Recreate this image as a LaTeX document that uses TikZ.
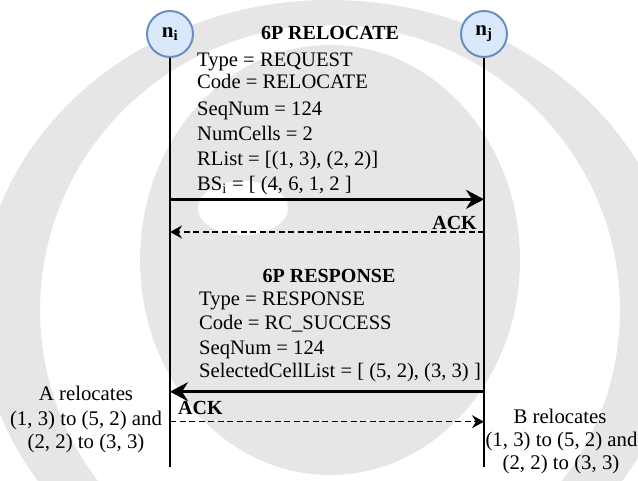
\documentclass[tikz,border=0pt]{standalone}
\usepackage{fontspec}
\setmainfont{Liberation Serif}
\usetikzlibrary{arrows.meta}
\definecolor{wm}{HTML}{E6E6E6}
\definecolor{nodefill}{HTML}{DAE8FC}
\definecolor{nodeline}{HTML}{6C8EBF}
\tikzset{
  px/.style={x=1pt,y=-1pt},
  peer/.style={circle,draw=nodeline,fill=nodefill,line width=2pt,minimum size=46pt,inner sep=0pt,font=\fontsize{21}{24}\selectfont\bfseries},
  msg/.style={anchor=base west,inner sep=0pt,font=\fontsize{20.6}{24}\selectfont},
  ttl/.style={anchor=base,inner sep=0pt,font=\fontsize{20}{24}\selectfont\bfseries},
  side/.style={anchor=base,inner sep=0pt,font=\fontsize{20.8}{24}\selectfont},
  lifeline/.style={line width=2.5pt},
  req/.style={line width=3pt,-{Stealth[length=18pt,width=19pt,inset=6pt]}},
  ackl/.style={line width=1.5pt,dash pattern=on 6pt off 3.5pt,-{Stealth[length=12pt,width=13pt,inset=4pt]}},
}
\begin{document}
\begin{tikzpicture}[px]
\useasboundingbox (0,0) rectangle (638,480);
\fill[white] (0,0) rectangle (638,480);
% watermark (approximate)
\begin{scope}
\clip (0,0) rectangle (638,480);
\fill[wm,even odd rule] (330,310) ellipse [x radius=350,y radius=310]
                        (330,310) ellipse [x radius=290,y radius=285];
\fill[wm] (330,260) ellipse [x radius=190,y radius=215];
\fill[white] (243,208) ellipse [x radius=45,y radius=27];
\end{scope}
% peers
\node[peer] (ni) at (170,34) {n\textsubscript{i}};
\node[peer] (nj) at (484,34) {n\textsubscript{j}};
\coordinate (ie) at (170,467);
\coordinate (je) at (484,467);
\draw[lifeline] (ni.south) -- (ie);
\draw[lifeline] (nj.south) -- (je);
% request block
\node[ttl] (t1) at (330,39.3) {6P RELOCATE};
\node[msg] (r1) at (197,66) {Type = REQUEST};
\node[msg] (r2) at (197,88.3) {Code = RELOCATE};
\node[msg] (r3) at (197,115) {SeqNum = 124};
\node[msg] (r4) at (197,140) {NumCells = 2};
\node[msg] (r5) at (197,165) {RList = [(1, 3), (2, 2)]};
\node[msg] (r6) at (197,190) {BS\textsubscript{i} = [ (4, 6, 1, 2 ]};
\coordinate (a1s) at (170,199.3);
\coordinate (a1e) at (484,199.3);
\draw[req] (a1s) -- (a1e);
\coordinate (k1s) at (484,232);
\coordinate (k1e) at (170,232);
\draw[ackl] (k1s) -- (k1e);
\node[ttl,anchor=base east] (ack1) at (477,229.3) {ACK};
% response block
\node[ttl] (t2) at (329,282.3) {6P RESPONSE};
\node[msg] (s1) at (199,305.7) {Type = RESPONSE};
\node[msg] (s2) at (199,329.3) {Code = RC\_SUCCESS};
\node[msg] (s3) at (199,354.3) {SeqNum = 124};
\node[msg] (s4) at (199,377.7) {SelectedCellList = [ (5, 2), (3, 3) ]};
\coordinate (a2s) at (484,391.7);
\coordinate (a2e) at (170,391.7);
\draw[req] (a2s) -- (a2e);
\coordinate (k2s) at (170,421.7);
\coordinate (k2e) at (484,421.7);
\draw[ackl] (k2s) -- (k2e);
\node[ttl,anchor=base west] (ack2) at (178,414.5) {ACK};
% side notes
\node[side] (na1) at (86,400) {A relocates};
\node[side] (na2) at (86,425) {(1, 3) to (5, 2) and};
\node[side] (na3) at (86,448.3) {(2, 2) to (3, 3)};
\node[side] (nb1) at (560,423.3) {B relocates};
\node[side] (nb2) at (561.5,446.7) {(1, 3) to (5, 2) and};
\node[side] (nb3) at (561,469.3) {(2, 2) to (3, 3)};
\end{tikzpicture}
\end{document}
